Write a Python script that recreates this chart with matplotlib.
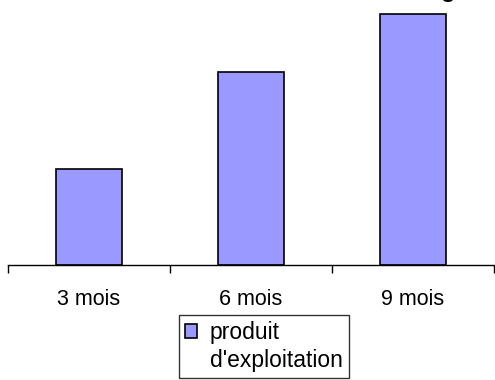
import matplotlib
matplotlib.use("Agg")
import matplotlib.pyplot as plt
from matplotlib.patches import Patch

plt.rcParams['font.family'] = ['Liberation Sans', 'DejaVu Sans']

categories = ["3 mois", "6 mois", "9 mois"]
produit = [96, 193, 251]
series_name = ["produit", "d'exploitation"]

fig = plt.figure(figsize=(4.95, 3.8), dpi=100)
ax = fig.add_axes([8 / 495, 115 / 380, 486 / 495, 265 / 380])

pos = list(range(len(categories)))
bars = ax.bar(pos, produit, width=0.41, color="#9999FF", edgecolor="black",
              linewidth=1.2)

ax.set_xlim(-0.5, len(categories) - 0.5)
ax.set_ylim(0, 265)
for s in ["left", "right", "top"]:
    ax.spines[s].set_visible(False)
ax.spines["bottom"].set_linewidth(1.0)
ax.set_yticks([])

# category ticks sit between the groups, labels in the middle
ax.set_xticks([-0.5, 0.5, 1.5, 2.5])
ax.set_xticklabels([])
ax.set_xticks(pos, minor=True)
ax.set_xticklabels(categories, minor=True, fontsize=15.5)
ax.tick_params(axis="x", which="major", length=6, width=1, direction="out")
ax.tick_params(axis="x", which="minor", length=0, pad=17)

# title runs off the top edge
fig.text(448 / 495, 1.0 + 3 / 380, "g", fontsize=17, fontweight="bold",
         ha="center", va="baseline")

# series name wraps onto a second line, marker stays on the first
blank = Patch(visible=False)
leg = fig.legend([bars, blank], series_name, loc="upper left",
                 bbox_to_anchor=(179 / 495, 1 - 315 / 380),
                 fontsize=16.5, frameon=True, fancybox=False, borderpad=0.25,
                 labelspacing=0.25, handlelength=0.55, handleheight=0.55,
                 handletextpad=0.55, borderaxespad=0)
leg.get_frame().set_edgecolor("black")
leg.get_frame().set_linewidth(1.0)

fig.savefig("out.png", dpi=100)
